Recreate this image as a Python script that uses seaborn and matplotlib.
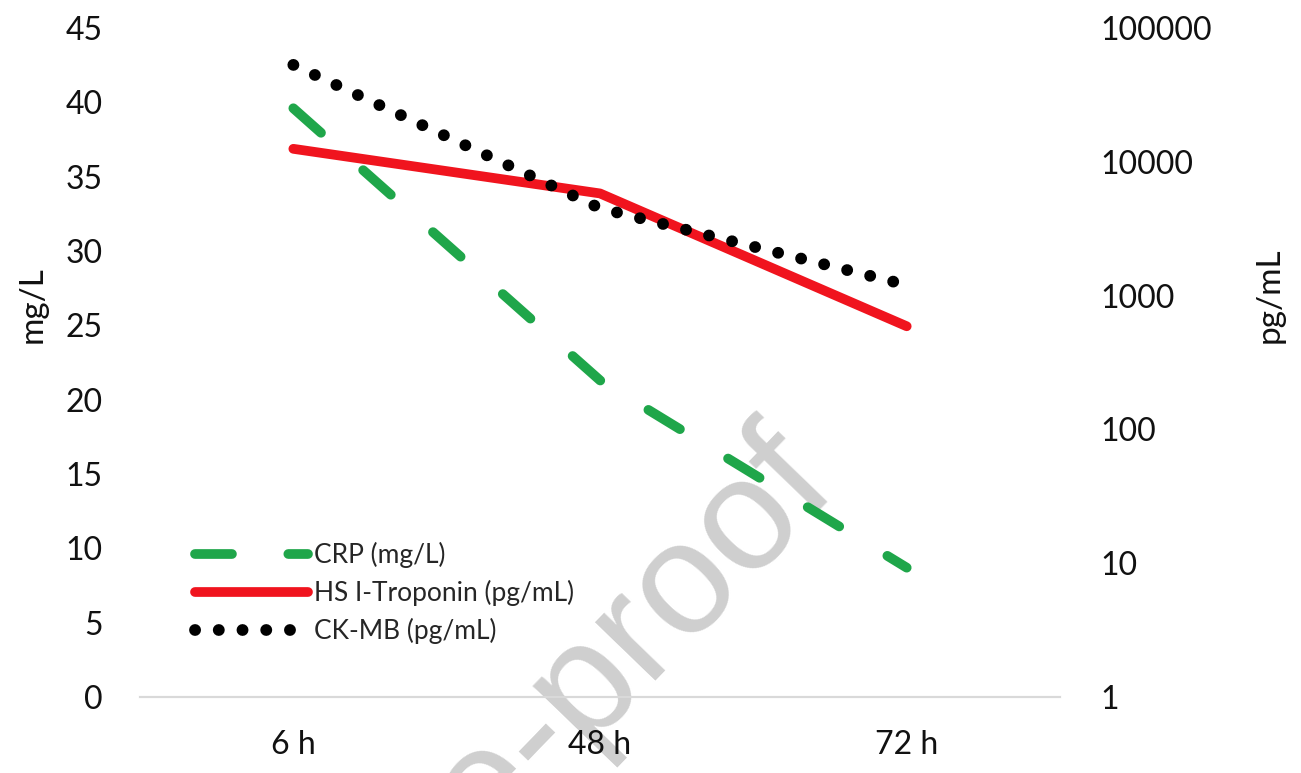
import pandas as pd
import matplotlib
matplotlib.use("Agg")
import matplotlib.pyplot as plt
import seaborn as sns

# data
times = ["6 h", "48 h", "72 h"]
crp = [39.6, 21.3, 8.7]                 # mg/L, left axis
troponin = [12500, 5800, 590]           # pg/mL, right axis (log)
ckmb = [53000, 4500, 1200]              # pg/mL, right axis (log)

left_ticks = list(range(0, 50, 5))
right_ticks = [1, 10, 100, 1000, 10000, 100000]

df = pd.DataFrame({"Time": times, "CRP": crp, "Troponin": troponin, "CKMB": ckmb})

sns.set_theme(style="white")
plt.rcParams["font.family"] = ["Lato", "DejaVu Sans"]

green = "#1fa64a"
red = "#f0141e"
txt = "#111111"

fig = plt.figure(figsize=(13.01, 7.73), dpi=100)
fig.patch.set_facecolor("white")
ax = fig.add_axes([0.1076, 0.0983, 0.7072, 0.8655])
ax.patch.set_visible(False)
ax2 = ax.twinx()

# left axis: CRP
sns.lineplot(data=df, x="Time", y="CRP", ax=ax, sort=False, color=green, lw=7,
             linestyle=(0, (3.8, 5.8)), dash_capstyle="round", label="CRP (mg/L)",
             legend=False)

# right axis: troponin and CK-MB
sns.lineplot(data=df, x="Time", y="Troponin", ax=ax2, sort=False, color=red, lw=7,
             solid_capstyle="round", solid_joinstyle="round",
             label="HS I-Troponin (pg/mL)", legend=False)
sns.lineplot(data=df, x="Time", y="CKMB", ax=ax2, sort=False, color="black", lw=8.5,
             linestyle=(0, (0.01, 2.0)), dash_capstyle="round",
             label="CK-MB (pg/mL)", legend=False)

ax.set_xlim(-0.5, 2.5)
ax.set_ylim(0, 45)
ax.set_yticks(left_ticks)
ax.set_yticklabels([str(t) for t in left_ticks])
ax2.set_yscale("log")
ax2.set_ylim(1, 100000)
ax2.set_yticks(right_ticks)
ax2.set_yticklabels([str(t) for t in right_ticks])
ax2.minorticks_off()

ax.set_xlabel("")
ax.set_ylabel("mg/L", fontsize=24, color=txt)
ax2.set_ylabel("pg/mL", fontsize=24, color=txt)
ax.yaxis.set_label_coords(-0.10, 0.586)
ax2.yaxis.set_label_coords(1.212, 0.60)

ax.tick_params(axis="x", length=0, pad=24, labelsize=23, labelcolor=txt)
ax.tick_params(axis="y", length=0, pad=27, labelsize=23, labelcolor=txt)
ax2.tick_params(axis="y", which="both", length=0, pad=29, labelsize=23,
                labelcolor=txt)

for a in (ax, ax2):
    for side in ("left", "right", "top"):
        a.spines[side].set_visible(False)
    a.spines["bottom"].set_color("#d9d9d9")
    a.spines["bottom"].set_linewidth(1.5)
    a.grid(False)

# legend for all three lines
h1, l1 = ax.get_legend_handles_labels()
h2, l2 = ax2.get_legend_handles_labels()
ax2.legend(h1 + h2, l1 + l2, loc="upper left", bbox_to_anchor=(0.0598, 0.232),
           frameon=False, fontsize=19, handlelength=4.3, handletextpad=0.2,
           labelspacing=0.46, borderpad=0, borderaxespad=0)

# journal watermark, sits behind the chart
fig.text(840 / 1301, 1 - 490 / 773, "Journal Pre-proof", fontsize=115,
         family="Liberation Sans", color="#cfcfcf", rotation=46,
         rotation_mode="anchor", ha="right", va="baseline", zorder=-1)

fig.savefig("out.png", dpi=100, facecolor="white")
